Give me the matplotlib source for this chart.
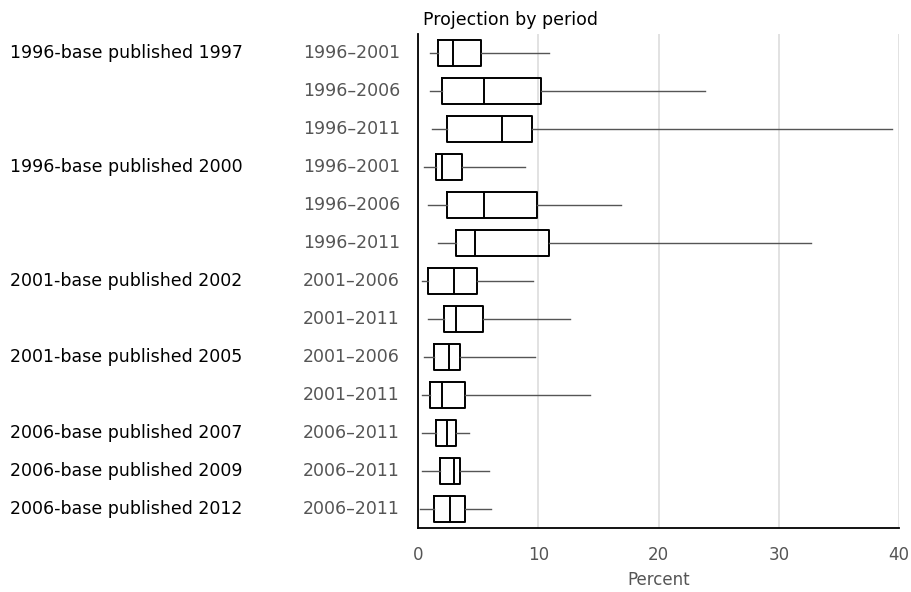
import matplotlib
matplotlib.use("Agg")
import matplotlib.pyplot as plt
import matplotlib.transforms as mtransforms

# ---- data ----
groups = ["1996-base published 1997", "", "",
          "1996-base published 2000", "", "",
          "2001-base published 2002", "",
          "2001-base published 2005", "",
          "2006-base published 2007",
          "2006-base published 2009",
          "2006-base published 2012"]
periods = ["1996\u20132001", "1996\u20132006", "1996\u20132011",
           "1996\u20132001", "1996\u20132006", "1996\u20132011",
           "2001\u20132006", "2001\u20132011",
           "2001\u20132006", "2001\u20132011",
           "2006\u20132011", "2006\u20132011", "2006\u20132011"]
whis_lo = [1.0, 1.0, 1.2, 0.5, 0.8, 1.7, 0.3, 0.8, 0.5, 0.3, 0.3, 0.3, 0.2]
q1      = [1.7, 2.0, 2.4, 1.5, 2.4, 3.2, 0.8, 2.2, 1.3, 1.0, 1.5, 1.8, 1.3]
median  = [2.9, 5.5, 7.0, 2.0, 5.5, 4.7, 3.0, 3.2, 2.6, 2.0, 2.4, 3.0, 2.7]
q3      = [5.2, 10.2, 9.5, 3.7, 9.9, 10.9, 4.9, 5.4, 3.5, 3.9, 3.2, 3.5, 3.9]
whis_hi = [10.9, 23.9, 39.4, 8.9, 16.9, 32.7, 9.6, 12.6, 9.7, 14.3, 4.2, 5.9, 6.1]
xticks = [0, 10, 20, 30, 40]

W, H = 911, 592
fig = plt.figure(figsize=(W / 100, H / 100), dpi=100)
ax = fig.add_axes([418 / W, 1 - 528 / H, (899 - 418) / W, (528 - 34) / H])

n = len(periods)
stats = []
for i in range(n):
    stats.append(dict(whislo=whis_lo[i], q1=q1[i], med=median[i],
                      q3=q3[i], whishi=whis_hi[i], fliers=[]))
positions = list(range(n))
ax.bxp(stats, positions=positions, vert=False, widths=0.7,
       showcaps=False, showfliers=False, patch_artist=False,
       boxprops=dict(color="black", linewidth=1.4),
       medianprops=dict(color="black", linewidth=1.4),
       whiskerprops=dict(color="#555555", linewidth=1.0))

ax.set_ylim(n - 0.5, -0.5)
ax.set_xlim(0, 40)
ax.set_xticks(xticks)
ax.set_xticklabels([str(t) for t in xticks], color="#555555", fontsize=12)
ax.tick_params(axis="x", length=0, pad=13)
ax.set_yticks([])
for s in ["top", "right"]:
    ax.spines[s].set_visible(False)
ax.spines["left"].set_linewidth(1.3)
ax.spines["bottom"].set_linewidth(1.3)
ax.grid(axis="x", color="#dddddd", linewidth=1.2)
ax.set_axisbelow(True)
ax.set_xlabel("Percent", color="#555555", fontsize=12, labelpad=5)

trans = ax.get_yaxis_transform()
gtrans = mtransforms.blended_transform_factory(fig.transFigure, ax.transData)
for i in range(n):
    ax.text(-18 / (899 - 418), i, periods[i], transform=trans, ha="right",
            va="center", color="#555555", fontsize=12.5)
    if groups[i]:
        ax.text(10 / W, i, groups[i], transform=gtrans,
                ha="left", va="center", color="black", fontsize=12.5)

fig.text(423 / W, 1 - 20 / H, "Projection by period", ha="left", va="center",
         color="black", fontsize=12.5)

fig.savefig("out.png", dpi=100)
